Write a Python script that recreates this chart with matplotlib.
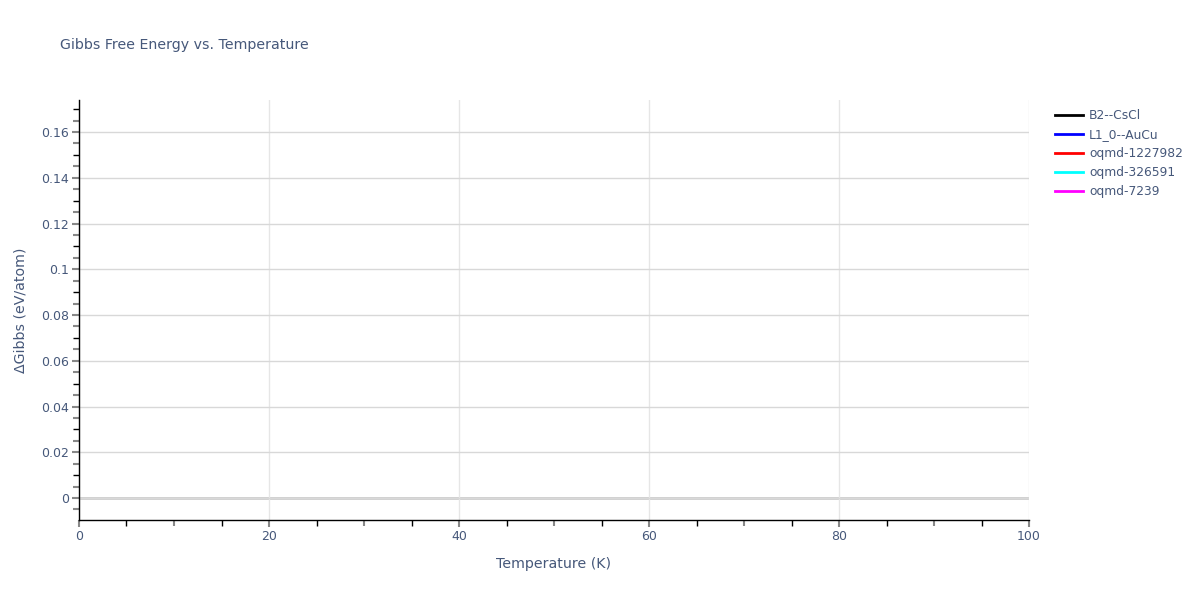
import matplotlib
matplotlib.use("Agg")
import matplotlib.pyplot as plt
from matplotlib.ticker import MultipleLocator, FuncFormatter, FixedLocator
import numpy as np

# Data (the reference traces contain no visible points)
series_names = ["B2--CsCl", "L1_0--AuCu", "oqmd-1227982", "oqmd-326591", "oqmd-7239"]
series_colors = ["black", "blue", "red", "cyan", "magenta"]
temperature = {name: [] for name in series_names}
delta_gibbs = {name: [] for name in series_names}

x_range = (0, 100)
y_range = (-0.0096, 0.174)

text_color = "#46587a"
plt.rcParams['font.family'] = ['DejaVu Sans']

fig = plt.figure(figsize=(12, 6), dpi=100)
ax = fig.add_axes([79/1200, 80/600, 950/1200, 420/600])

for name, col in zip(series_names, series_colors):
    ax.plot(temperature[name], delta_gibbs[name], color=col, lw=2, label=name)

ax.set_xlim(*x_range)
ax.set_ylim(*y_range)

ax.xaxis.set_major_locator(MultipleLocator(20))
ax.yaxis.set_major_locator(MultipleLocator(0.02))
ax.xaxis.set_minor_locator(FixedLocator([v for v in np.arange(5, 100, 10)]))
ax.yaxis.set_minor_locator(FixedLocator([v for v in np.arange(-0.01, 0.18, 0.02) + 0.0]))
ax.yaxis.set_major_formatter(FuncFormatter(lambda v, p: "0" if abs(v) < 1e-12 else f"{v:g}"))

ax.grid(True, which='major', axis='y', color='#d8d8d8', lw=1)
ax.grid(True, which='major', axis='x', color='#e6e6e6', lw=1)
ax.axhline(0, color='#cccccc', lw=2, zorder=1)

for s in ['top', 'right']:
    ax.spines[s].set_visible(False)
for s in ['left', 'bottom']:
    ax.spines[s].set_color('black')
    ax.spines[s].set_linewidth(1)

ax.tick_params(which='major', length=5, width=1.5, color='#888888', labelcolor=text_color,
               labelsize=9, direction='out', pad=2)
ax.tick_params(which='minor', length=4, width=1, color='black', direction='out')

# extra grey half-minor ticks
secx = ax.secondary_xaxis('bottom')
secx.set_xticks([v for v in np.arange(10, 100, 20)])
secx.set_xticklabels([])
secx.tick_params(length=4, width=1.5, color='#888888')
secx.spines['bottom'].set_visible(False)
secy = ax.secondary_yaxis('left')
secy.set_yticks([v for v in np.arange(-0.005, 0.175, 0.01)])
secy.set_yticklabels([])
secy.tick_params(length=4, width=1.5, color='#888888')
secy.spines['left'].set_visible(False)

ax.set_xlabel("Temperature (K)", color=text_color, fontsize=10.2, labelpad=10)
ax.set_ylabel("ΔGibbs (eV/atom)", color=text_color, fontsize=10.2, labelpad=10)

fig.text(60/1200, 1 - 45/600, "Gibbs Free Energy vs. Temperature", color=text_color,
         fontsize=10.2, va='center', ha='left')

fig.legend(loc='upper left', bbox_to_anchor=(1050/1200, 1 - 104/600), frameon=False,
           fontsize=8.8, labelcolor=text_color, handlelength=2.3, handletextpad=0.5,
           labelspacing=0.5, borderaxespad=0)

fig.savefig("out.png", dpi=100)
